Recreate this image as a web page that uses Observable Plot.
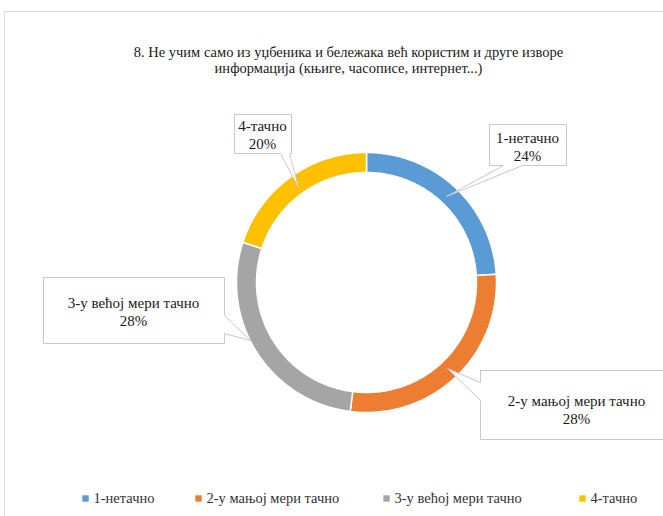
<!DOCTYPE html>
<html><head><meta charset="utf-8">
<script src="https://cdn.jsdelivr.net/npm/d3@7"></script>
<script src="https://cdn.jsdelivr.net/npm/@observablehq/plot@0.6"></script>
<style>
html,body{margin:0;padding:0;background:#fff;overflow:hidden;}
#frame{position:fixed;left:4px;top:11px;width:700px;height:600px;border-left:1px solid #d9d9d9;border-top:1px solid #d9d9d9;pointer-events:none;}
</style></head><body>
<div id="c"></div>
<div id="frame"></div>
<script>
// ---- data ----
const categories = ["1-нетачно", "2-у мањој мери тачно", "3-у већој мери тачно", "4-тачно"];
const values = [24, 28, 28, 20];
const percentLabels = ["24%", "28%", "28%", "20%"];
const colors = ["#5b9bd5", "#ed7d31", "#a5a5a5", "#ffc000"];
const titleLines = ["8. Не учим само из уџбеника и бележака већ користим и друге изворе", "информација (књиге, часописе, интернет...)"];

// ---- layout ----
const W = 663, H = 516;
const cx = 366, cy = 282, rOuter = 130, rInner = 110;
const face = "Times New Roman";
// callout boxes: [x0,y0,x1,y1], wedge side, base a/b, tip, text center
const callouts = [
  {box: [489, 124, 566, 165], side: "bottom", base: [522, 503], tip: [446, 196], tx: 527, ty: 146},
  {box: [480, 370, 672, 439], side: "left", base: [400, 382], tip: [447, 368], tx: 576, ty: 409},
  {box: [43, 277, 224, 343], side: "right", base: [315, 333], tip: [250, 340], tx: 133, ty: 311},
  {box: [234, 114, 291, 153], side: "bottom", base: [289, 280], tip: [298, 187], tx: 262, ty: 134}
];
const legendX = [85, 198, 386, 582];
const legendY = 498;

// ---- geometry from data ----
const arcs = d3.pie().sort(null).value(d => d.value)(categories.map((c, i) => ({c, value: values[i], color: colors[i]})));
const pt = (a, r) => [cx + r * Math.sin(a), cy - r * Math.cos(a)];
const slicePts = [];
arcs.forEach((a, i) => {
  const n = Math.max(8, Math.ceil((a.endAngle - a.startAngle) / (Math.PI / 180)));
  const pts = [];
  for (let k = 0; k <= n; k++) pts.push(pt(a.startAngle + (a.endAngle - a.startAngle) * k / n, rOuter));
  for (let k = n; k >= 0; k--) pts.push(pt(a.startAngle + (a.endAngle - a.startAngle) * k / n, rInner));
  pts.push(pts[0]);
  pts.forEach(p => slicePts.push({x: p[0], y: p[1], z: i, color: a.data.color}));
});

const calloutPts = [];
callouts.forEach((c, i) => {
  const [x0, y0, x1, y1] = c.box;
  let pts;
  if (c.side === "bottom") pts = [[x0, y0], [x1, y0], [x1, y1], [c.base[0], y1], c.tip, [c.base[1], y1], [x0, y1], [x0, y0]];
  else if (c.side === "left") pts = [[x0, y0], [x1, y0], [x1, y1], [x0, y1], [x0, c.base[0]], c.tip, [x0, c.base[1]], [x0, y0]];
  else pts = [[x0, y0], [x1, y0], [x1, c.base[0]], c.tip, [x1, c.base[1]], [x1, y1], [x0, y1], [x0, y0]];
  pts.forEach(p => calloutPts.push({x: p[0], y: p[1], z: i}));
});
const labelData = callouts.map((c, i) => ({x: c.tx, y: c.ty, text: categories[i] + "\n" + percentLabels[i]}));
const legendData = categories.map((c, i) => ({x: legendX[i], y: legendY, c, color: colors[i]}));

const chart = Plot.plot({
  width: W, height: H,
  marginTop: 0, marginRight: 0, marginBottom: 0, marginLeft: 0,
  x: {domain: [0, W], range: [0, W], axis: null},
  y: {domain: [0, H], range: [0, H], axis: null},
  color: {type: "identity"},
  style: {fontFamily: face},
  marks: [
    Plot.line(slicePts, {x: "x", y: "y", z: "z", fill: "color", stroke: "#ffffff", strokeWidth: 1.5, curve: "linear"}),
    Plot.line(calloutPts, {x: "x", y: "y", z: "z", fill: "#ffffff", stroke: "#c8c8c8", strokeWidth: 1, curve: "linear"}),
    Plot.text(labelData, {x: "x", y: "y", text: "text", fontSize: 15, lineHeight: 1.15, fill: "#1a1a1a", fontFamily: face}),
    Plot.text([titleLines.join("\n")], {x: () => 348, y: () => 59, text: d => d, fontSize: 14.5, lineHeight: 1.12, fill: "#1a1a1a", fontFamily: face}),
    Plot.dot(legendData, {x: "x", y: "y", fill: "color", symbol: "square", r: 3.6, stroke: null}),
    Plot.text(legendData, {x: d => d.x + 8, y: "y", text: "c", textAnchor: "start", fontSize: 14.5, fill: "#333333", fontFamily: face})
  ]
});
document.getElementById("c").appendChild(chart);
</script>
</body></html>
